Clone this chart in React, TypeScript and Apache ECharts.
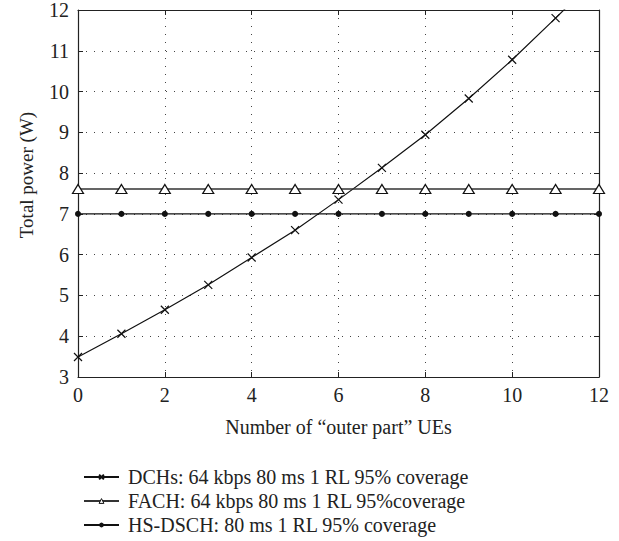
import React, { useEffect, useRef } from "react";
import * as echarts from "echarts";

const xValues = [0, 1, 2, 3, 4, 5, 6, 7, 8, 9, 10, 11, 12];
const dchValues = [3.49, 4.06, 4.65, 5.26, 5.93, 6.6, 7.35, 8.13, 8.94, 9.83, 10.78, 11.8, 12.85];
const fachValues = [7.61, 7.61, 7.61, 7.61, 7.61, 7.61, 7.61, 7.61, 7.61, 7.61, 7.61, 7.61, 7.61];
const hsdschValues = [7, 7, 7, 7, 7, 7, 7, 7, 7, 7, 7, 7, 7];
const seriesNames = [
  "DCHs: 64 kbps 80 ms 1 RL 95% coverage",
  "FACH: 64 kbps 80 ms 1 RL 95%coverage",
  "HS-DSCH: 80 ms 1 RL 95% coverage",
];
const yAxisTitle = "Total power (W)";
const xAxisTitle = "Number of \u201couter part\u201d UEs";

const FONT = "'Liberation Serif', 'DejaVu Serif', serif";

export default function App() {
  const ref = useRef<HTMLDivElement>(null);
  useEffect(() => {
    if (!ref.current) return;
    const chart = echarts.init(ref.current, undefined, { renderer: "svg" });
    const pair = (vals: number[]) => xValues.map((x, i) => [x, vals[i]]);
    const gridLine = { show: true, lineStyle: { color: "#444", type: [1, 7] as any, width: 1 } };
    chart.setOption({
      animation: false,
      backgroundColor: "#fff",
      grid: { left: 78, right: 20, top: 9, bottom: 164 },
      graphic: [
        {
          type: "text",
          x: 26,
          y: 175,
          rotation: Math.PI / 2,
          style: {
            text: yAxisTitle,
            fontFamily: FONT,
            fontSize: 19,
            fill: "#222",
            align: "center",
            verticalAlign: "middle",
          },
        },
      ],
      legend: {
        orient: "vertical",
        left: 78,
        top: 462,
        itemWidth: 35,
        itemHeight: 6,
        itemGap: 4,
        textStyle: { fontFamily: FONT, fontSize: 20, color: "#222", padding: [0, 0, 0, 4] },
        data: [
          { name: seriesNames[0] },
          { name: seriesNames[1], itemStyle: { color: "#fff", borderColor: "#111", borderWidth: 1 } },
          { name: seriesNames[2] },
        ],
      },
      xAxis: [
        {
          type: "value",
          min: 0,
          max: 12,
          interval: 2,
          name: xAxisTitle,
          nameLocation: "middle",
          nameGap: 40,
          nameTextStyle: { fontFamily: FONT, fontSize: 20, color: "#222" },
          axisLine: { show: true, onZero: false, lineStyle: { color: "#222", width: 1.2 } },
          axisTick: { show: true, inside: true, length: 5, lineStyle: { color: "#222" } },
          axisLabel: { fontFamily: FONT, fontSize: 20, color: "#222", margin: 8 },
          splitLine: gridLine,
        },
        {
          type: "value",
          position: "top",
          min: 0,
          max: 12,
          interval: 2,
          axisLine: { show: true, onZero: false, lineStyle: { color: "#222", width: 1.2 } },
          axisTick: { show: true, inside: true, length: 5, lineStyle: { color: "#222" } },
          axisLabel: { show: false },
          splitLine: { show: false },
        },
      ],
      yAxis: [
        {
          type: "value",
          min: 3,
          max: 12,
          interval: 1,
          axisLine: { show: true, onZero: false, lineStyle: { color: "#222", width: 1.2 } },
          axisTick: { show: true, inside: true, length: 5, lineStyle: { color: "#222" } },
          axisLabel: { fontFamily: FONT, fontSize: 20, color: "#222", margin: 9 },
          splitLine: gridLine,
        },
        {
          type: "value",
          position: "right",
          min: 3,
          max: 12,
          interval: 1,
          axisLine: { show: true, onZero: false, lineStyle: { color: "#222", width: 1.2 } },
          axisTick: { show: true, inside: true, length: 5, lineStyle: { color: "#222" } },
          axisLabel: { show: false },
          splitLine: { show: false },
        },
      ],
      series: [
        {
          name: seriesNames[0],
          type: "line",
          data: pair(dchValues),
          clip: true,
          symbol: "path://M0,0L10,10M10,0L0,10",
          symbolSize: 8,
          showAllSymbol: true,
          lineStyle: { color: "#111", width: 1.2 },
          itemStyle: { color: "#111", borderColor: "#111", borderWidth: 1.2 },
        },
        {
          name: seriesNames[1],
          type: "line",
          data: pair(fachValues),
          symbol: "triangle",
          symbolSize: [11, 9],
          showAllSymbol: true,
          lineStyle: { color: "#333", width: 1.5 },
          itemStyle: { color: "#fff", borderColor: "#111", borderWidth: 1.2 },
        },
        {
          name: seriesNames[2],
          type: "line",
          data: pair(hsdschValues),
          symbol: "circle",
          symbolSize: 6,
          showAllSymbol: true,
          lineStyle: { color: "#111", width: 1.2 },
          itemStyle: { color: "#111", borderColor: "#111", borderWidth: 0 },
        },
      ],
    });
    return () => chart.dispose();
  }, []);
  return (
    <div
      ref={ref}
      style={{ position: "fixed", left: 0, top: 0, width: 619, height: 541, background: "#fff" }}
    />
  );
}
